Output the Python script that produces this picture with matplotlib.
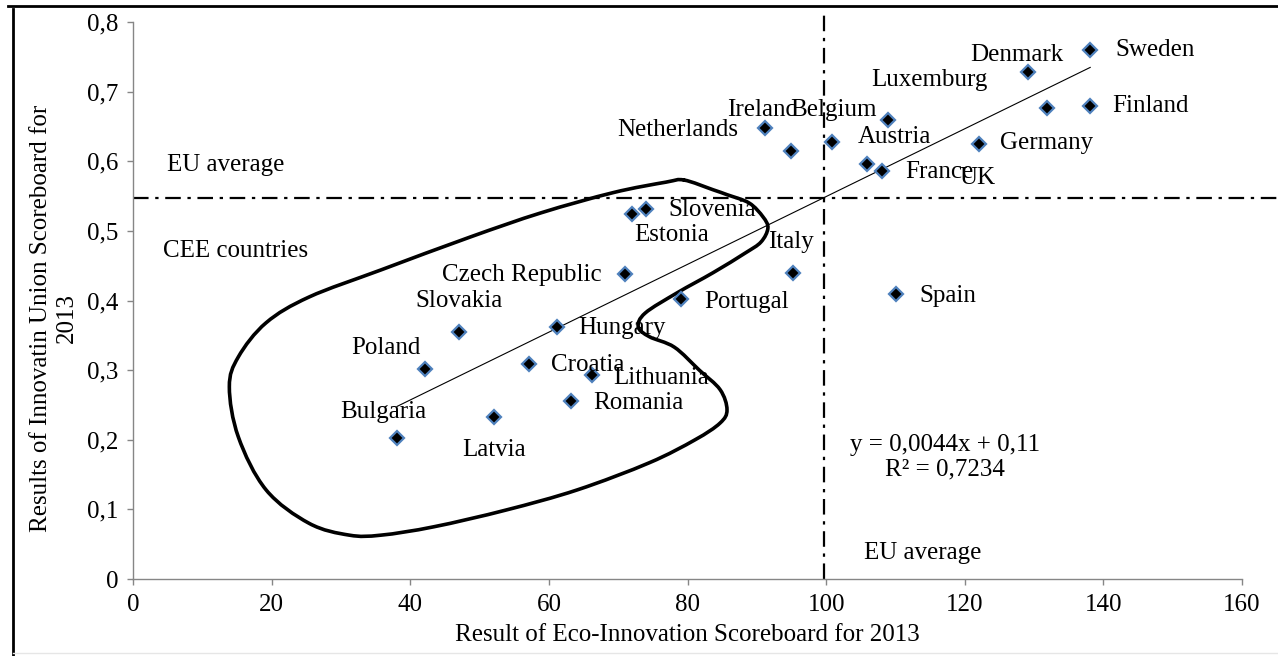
import matplotlib

matplotlib.use("agg")
import matplotlib.pyplot as plt  # noqa: E402
import numpy as np  # noqa: E402
from matplotlib.lines import Line2D  # noqa: E402
from matplotlib.path import Path  # noqa: E402
from matplotlib.patches import PathPatch  # noqa: E402

plt.rcParams["font.family"] = ["Liberation Serif", "DejaVu Serif"]

# Eco-Innovation Scoreboard (x) vs Innovation Union Scoreboard (y), 2013
countries = ["Sweden", "Denmark", "Finland", "Luxemburg", "Belgium", "Ireland",
             "Netherlands", "Austria", "UK", "France", "Germany", "Slovenia",
             "Estonia", "Czech Republic", "Italy", "Portugal", "Spain", "Hungary",
             "Slovakia", "Poland", "Croatia", "Lithuania", "Romania", "Latvia",
             "Bulgaria"]
eco = [138.1, 129.1, 138.1, 131.9, 108.9, 91.2,
       95.0, 100.9, 105.9, 108.1, 122.1, 74.0,
       72.0, 71.0, 95.2, 79.1, 110.1, 61.2,
       47.0, 42.1, 57.1, 66.2, 63.2, 52.1,
       38.1]
ius = [0.760, 0.728, 0.680, 0.677, 0.659, 0.648,
       0.615, 0.628, 0.596, 0.586, 0.625, 0.532,
       0.524, 0.438, 0.440, 0.402, 0.409, 0.362,
       0.355, 0.302, 0.309, 0.293, 0.256, 0.233,
       0.203]

EU_ECO = 99.7
EU_IUS = 0.547

# label anchors (left, middle) in data units
label_pos = {
    "Sweden": (141.7, 0.760), "Denmark": (120.8, 0.753), "Luxemburg": (106.5, 0.717),
    "Finland": (141.3, 0.680), "Ireland": (85.7, 0.674), "Belgium": (94.8, 0.674),
    "Netherlands": (69.8, 0.645), "Austria": (104.6, 0.635), "Germany": (125.1, 0.626),
    "France": (111.4, 0.585), "UK": (119.3, 0.576), "Slovenia": (77.3, 0.530),
    "Estonia": (72.3, 0.494), "Italy": (91.6, 0.484), "Czech Republic": (44.6, 0.437),
    "Slovakia": (40.7, 0.399), "Portugal": (82.4, 0.398), "Hungary": (64.2, 0.361),
    "Poland": (31.5, 0.332), "Croatia": (60.3, 0.307), "Lithuania": (69.3, 0.289),
    "Romania": (66.4, 0.253), "Bulgaria": (29.9, 0.240), "Latvia": (47.5, 0.185),
    "Spain": (113.4, 0.407),
}

# hand-drawn outline around the CEE group
loop_x = [79.5, 83.7, 85.7, 88.9, 90.9, 91.6, 90.6, 88.3, 83.7, 78.5, 73.9, 72.9,
          74.5, 78.1, 81.7, 84.7, 85.7, 84.7, 81.1, 74.5, 64.1, 53.8, 43.4, 35.8,
          31.2, 25.4, 19.2, 15.2, 13.9, 15.2, 19.2, 25.4, 35.8, 48.6, 58.9, 69.3, 76.9]
loop_y = [0.573, 0.559, 0.552, 0.540, 0.520, 0.504, 0.484, 0.468, 0.440, 0.411, 0.382, 0.362,
          0.348, 0.333, 0.300, 0.272, 0.243, 0.224, 0.200, 0.167, 0.128, 0.099, 0.075, 0.063,
          0.063, 0.080, 0.128, 0.204, 0.276, 0.319, 0.368, 0.405, 0.444, 0.491, 0.526, 0.555, 0.570]

FS = 18
fig = plt.figure(figsize=(12.78, 6.56), dpi=100)
ax = fig.add_axes([133 / 1278, 1 - 579 / 656, (1242 - 133) / 1278, (579 - 22) / 656])

# smooth closed outline: Catmull-Rom points turned into cubic Bezier segments
pts = np.column_stack([loop_x, loop_y])
n = len(pts)
verts = [pts[0]]
codes = [Path.MOVETO]
for i in range(n):
    p0, p1, p2, p3 = pts[i - 1], pts[i], pts[(i + 1) % n], pts[(i + 2) % n]
    verts += [p1 + (p2 - p0) / 6, p2 - (p3 - p1) / 6, p2]
    codes += [Path.CURVE4] * 3
ax.add_patch(PathPatch(Path(verts, codes), fill=False, lw=2.6, color="black",
                       capstyle="round", joinstyle="round", zorder=2))

# EU average lines
dash = (0, (7, 3, 1.5, 3))
ax.plot([0, 165.5], [EU_IUS, EU_IUS], color="black", lw=1.6, ls=dash, clip_on=False, zorder=1)
ax.plot([EU_ECO, EU_ECO], [0, 0.818], color="black", lw=1.6, ls=dash, clip_on=False, zorder=1)

# linear trend
b, a = np.polyfit(eco, ius, 1)
xs = np.array([min(eco), max(eco)])
ax.plot(xs, a + b * xs, color="black", lw=0.8, zorder=3)

ax.plot(eco, ius, ls="none", marker="D", ms=7, mfc="black", mec="#4F81BD", mew=1.6, zorder=4)

for name in countries:
    lx, ly = label_pos[name]
    ax.text(lx, ly, name, fontsize=FS, ha="left", va="center", zorder=5)

ax.text(4.9, 0.595, "EU average", fontsize=FS, va="center")
ax.text(4.3, 0.471, "CEE countries", fontsize=FS, va="center")
ax.text(105.5, 0.037, "EU average", fontsize=FS, va="center")
ax.text(117.2, 0.193, "y = 0,0044x + 0,11", fontsize=FS, ha="center", va="center")
ax.text(117.2, 0.157, "R² = 0,7234", fontsize=FS, ha="center", va="center")

ax.set_xlim(0, 160)
ax.set_ylim(0, 0.8)
ax.set_xticks(np.arange(0, 161, 20))
ax.set_yticks(np.arange(0, 0.81, 0.1))
ax.set_yticklabels(["0"] + [f"0,{i}" for i in range(1, 9)])
for s in ("top", "right"):
    ax.spines[s].set_visible(False)
for s in ("left", "bottom"):
    ax.spines[s].set_color("#868686")
    ax.spines[s].set_linewidth(1.0)
ax.tick_params(direction="out", length=4.5, width=1.0, color="#868686",
               labelsize=FS, pad=6)
ax.set_xlabel("Result of Eco-Innovation Scoreboard for 2013", fontsize=FS, labelpad=6)

fig.text(54 / 1278, 1 - 318 / 656, "Results of Innovatin Union Scoreboard for\n2013",
         rotation=90, ha="center", va="center", multialignment="center",
         fontsize=FS, linespacing=1.25)

# page frame lines
fig.add_artist(Line2D([8 / 1278, 1], [1 - 5.5 / 656] * 2, transform=fig.transFigure,
                      color="black", lw=2.0))
fig.add_artist(Line2D([12.5 / 1278] * 2, [0, 1 - 9 / 656], transform=fig.transFigure,
                      color="black", lw=2.0))
fig.add_artist(Line2D([12.5 / 1278, 1], [3 / 656] * 2, transform=fig.transFigure,
                      color="#e6e6e6", lw=1.0))

fig.savefig("out.png", dpi=100)
